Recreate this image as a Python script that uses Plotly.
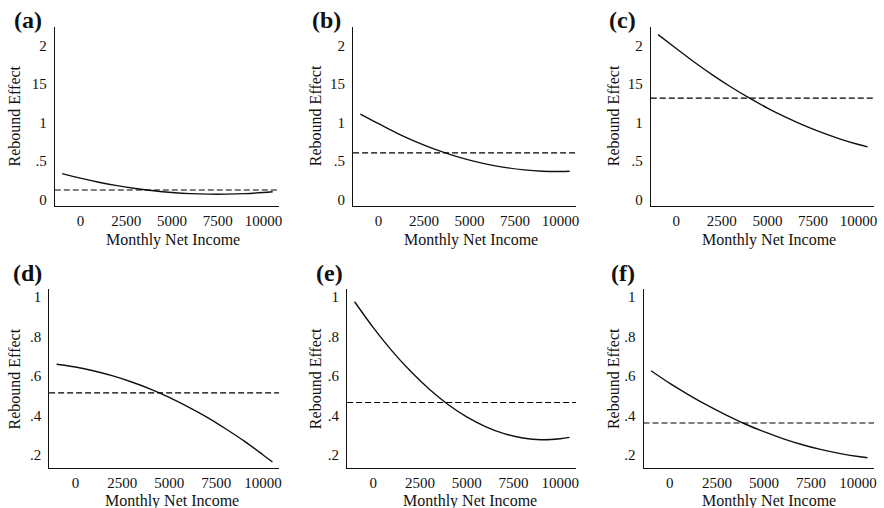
import plotly.graph_objects as go

# ---------------- data ----------------
income = [-1000, 0, 1000, 2000, 3000, 4000, 5000, 6000, 7000, 8000, 9000, 10000, 10500]

rebound_a = [0.338, 0.279, 0.227, 0.183, 0.146, 0.116, 0.094, 0.079, 0.072, 0.072, 0.079, 0.094, 0.104]
rebound_b = [1.11, 0.985, 0.864, 0.757, 0.663, 0.582, 0.513, 0.458, 0.416, 0.386, 0.369, 0.365, 0.368]
rebound_c = [2.14, 1.960, 1.782, 1.615, 1.461, 1.319, 1.188, 1.070, 0.963, 0.869, 0.786, 0.715, 0.685]
rebound_d = [0.659, 0.645, 0.625, 0.600, 0.569, 0.533, 0.491, 0.443, 0.391, 0.332, 0.269, 0.199, 0.163]
rebound_e = [0.976, 0.845, 0.727, 0.623, 0.532, 0.455, 0.392, 0.343, 0.307, 0.285, 0.276, 0.281, 0.288]
rebound_f = [0.626, 0.562, 0.504, 0.450, 0.401, 0.356, 0.317, 0.282, 0.252, 0.227, 0.207, 0.191, 0.185]

average_rebound = [0.126, 0.606, 1.316, 0.514, 0.465, 0.361]

panel_labels = ["(a)", "(b)", "(c)", "(d)", "(e)", "(f)"]

x_tickvals = [0, 2500, 5000, 7500, 10000]
x_ticktext = ["0", "2500", "5000", "7500", "10000"]

y_tickvals_top = [0, 0.5, 1, 1.5, 2]
y_ticktext_top = ["0", ".5", "1", "15", "2"]
y_tickvals_bottom = [0.2, 0.4, 0.6, 0.8, 1]
y_ticktext_bottom = [".2", ".4", ".6", ".8", "1"]

x_title = "Monthly Net Income"
y_title = "Rebound Effect"

series = [rebound_a, rebound_b, rebound_c, rebound_d, rebound_e, rebound_f]

# ---------------- layout geometry (pixels) ----------------
W, H = 884, 508
FONT = "Liberation Serif"
INK = "#111111"

# (left, right) of each panel, and (top, bottom) of each row
panel_x = [(55, 280), (354.3, 578), (653, 877), (49.3, 280), (348.3, 578), (645.7, 877)]
row_y = [(27, 207), (289.7, 470)]
x_range = [-1400, 10850]
y_ranges = [[-0.084, 2.24], [0.132, 1.043]]

# annotation positions
label_pos = [(28, 20), (327.5, 20), (624.8, 20), (28, 274.5), (331, 274.5), (624.8, 274.5)]
xtitle_pos = [(173.3, 240.5), (472.3, 240.5), (771.5, 240.5), (173, 503), (471.7, 503), (771.3, 503)]
ytitle_pos = [(15, 116), (316.7, 116), (615.7, 116), (15, 380), (316.7, 380), (615.7, 380)]


def px(x):
    return x / W


def py(y):
    return 1 - y / H


fig = go.Figure()
layout = dict(
    width=W, height=H,
    margin=dict(l=0, r=0, t=0, b=0),
    paper_bgcolor="white", plot_bgcolor="white",
    showlegend=False,
    font=dict(family=FONT, color=INK),
)
annotations = []
shapes = []

for i in range(6):
    n = i + 1
    row = 0 if i < 3 else 1
    xs = "" if n == 1 else str(n)
    l, r = panel_x[i]
    t, b = row_y[row]

    layout["xaxis" + xs] = dict(
        domain=[px(l), px(r)], range=x_range, anchor="y" + xs,
        showline=True, linecolor=INK, linewidth=1,
        showgrid=False, zeroline=False, ticks="",
        tickvals=x_tickvals, ticktext=x_ticktext,
        tickfont=dict(family=FONT, size=15, color=INK),
        ticklabelstandoff=1, fixedrange=True,
    )
    layout["yaxis" + xs] = dict(
        domain=[py(b), py(t)], range=y_ranges[row], anchor="x" + xs,
        showline=True, linecolor=INK, linewidth=1,
        showgrid=False, zeroline=False, ticks="",
        tickvals=y_tickvals_top if row == 0 else y_tickvals_bottom,
        ticktext=y_ticktext_top if row == 0 else y_ticktext_bottom,
        tickfont=dict(family=FONT, size=15, color=INK),
        ticklabelstandoff=4, fixedrange=True,
    )

    fig.add_trace(go.Scatter(
        x=income, y=series[i], mode="lines",
        line=dict(color=INK, width=1.4, shape="spline", smoothing=1),
        xaxis="x" + xs, yaxis="y" + xs, hoverinfo="skip",
    ))

    shapes.append(dict(
        type="line", xref="x" + xs + " domain", yref="y" + xs,
        x0=0, x1=1, y0=average_rebound[i], y1=average_rebound[i],
        line=dict(color="#000000", width=1.2, dash="6px,3px"),
    ))

    lx, ly = label_pos[i]
    annotations.append(dict(
        text="<b>" + panel_labels[i] + "</b>", xref="paper", yref="paper",
        x=px(lx), y=py(ly), xanchor="center", yanchor="middle",
        showarrow=False, font=dict(family=FONT, size=24, color=INK),
    ))
    tx, ty = xtitle_pos[i]
    annotations.append(dict(
        text=x_title, xref="paper", yref="paper",
        x=px(tx), y=py(ty), xanchor="center", yanchor="middle",
        showarrow=False, font=dict(family=FONT, size=16, color=INK),
    ))
    vx, vy = ytitle_pos[i]
    annotations.append(dict(
        text=y_title, xref="paper", yref="paper", textangle=-90,
        x=px(vx), y=py(vy), xanchor="center", yanchor="middle",
        showarrow=False, font=dict(family=FONT, size=16, color=INK),
    ))

layout["annotations"] = annotations
layout["shapes"] = shapes
fig.update_layout(**layout)

fig.write_html("out.html", config={"displayModeBar": False})
